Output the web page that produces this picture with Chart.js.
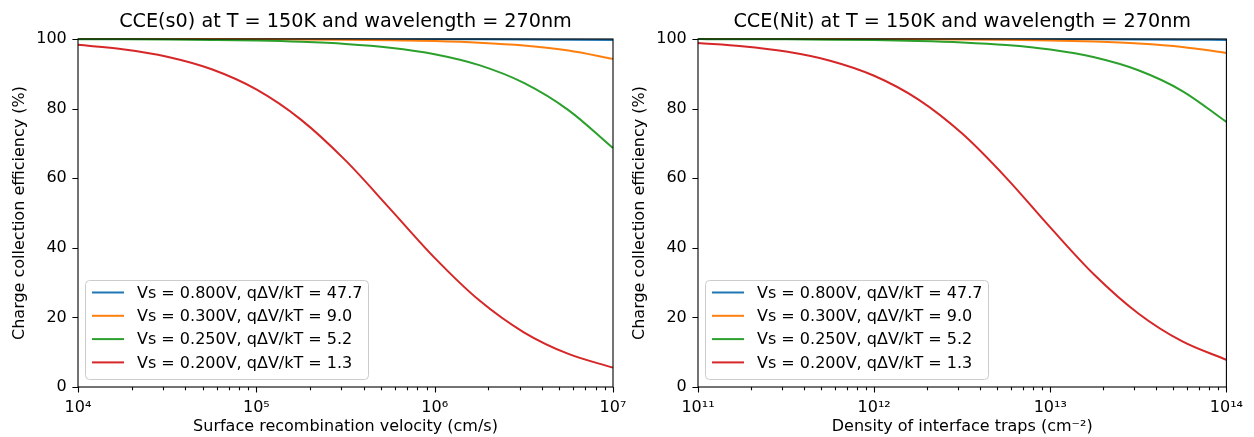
<!DOCTYPE html>
<html>
<head>
<meta charset="utf-8">
<script src="https://cdn.jsdelivr.net/npm/chart.js@4.4.1/dist/chart.umd.min.js"></script>
<style>
  html, body { margin: 0; padding: 0; background: #fff; }
  #wrap { position: relative; width: 1254px; height: 437px; overflow: hidden; }
  canvas { position: absolute; top: 0; }
</style>
</head>
<body>
<div id="wrap">
  <canvas id="c1" width="640" height="437" style="left:0px"></canvas>
  <canvas id="c2" width="634" height="437" style="left:620px"></canvas>
</div>
<script>
// ---------- DATA ----------
const seriesLabels = [
  'Vs = 0.800V, qΔV/kT = 47.7',
  'Vs = 0.300V, qΔV/kT = 9.0',
  'Vs = 0.250V, qΔV/kT = 5.2',
  'Vs = 0.200V, qΔV/kT = 1.3'
];
const seriesColors = ['#1f77b4', '#ff7f0e', '#2ca02c', '#d62728'];

// Left panel: surface recombination velocity (cm/s)
const s0Values = [1e4, 1.778e4, 3.162e4, 5.623e4, 1e5, 1.778e5, 3.162e5, 5.623e5, 1e6, 1.778e6, 3.162e6, 5.623e6, 1e7];
const s0Blue   = [100.0, 100.0, 100.0, 99.99, 99.99, 99.98, 99.97, 99.95, 99.93, 99.9, 99.85, 99.78, 99.7];
const s0Orange = [99.99, 99.99, 99.98, 99.97, 99.94, 99.89, 99.81, 99.66, 99.40, 98.93, 98.12, 96.70, 94.29];
const s0Green  = [99.95, 99.92, 99.86, 99.74, 99.55, 99.19, 98.58, 97.50, 95.63, 92.49, 87.38, 79.57, 68.65];
const s0Red    = [98.33, 97.07, 94.91, 91.30, 85.51, 76.84, 65.11, 51.20, 37.11, 24.91, 15.72, 9.50, 5.57];
const s0TickValues = [1e4, 1e5, 1e6, 1e7];
const s0TickLabels = ['10⁴', '10⁵', '10⁶', '10⁷'];

// Right panel: density of interface traps (cm^-2)
const nitValues = [1e11, 1.778e11, 3.162e11, 5.623e11, 1e12, 1.778e12, 3.162e12, 5.623e12, 1e13, 1.778e13, 3.162e13, 5.623e13, 1e14];
const nitBlue   = [100.0, 100.0, 100.0, 99.99, 99.99, 99.98, 99.97, 99.96, 99.94, 99.91, 99.86, 99.8, 99.72];
const nitOrange = [100.0, 99.99, 99.99, 99.98, 99.96, 99.93, 99.87, 99.77, 99.59, 99.26, 98.70, 97.71, 96.00];
const nitGreen  = [99.97, 99.94, 99.90, 99.82, 99.69, 99.45, 99.02, 98.27, 96.97, 94.74, 91.01, 85.05, 76.19];
const nitRed    = [98.83, 97.94, 96.40, 93.77, 89.44, 82.65, 72.81, 60.10, 45.86, 32.26, 21.13, 13.09, 7.81];
const nitTickValues = [1e11, 1e12, 1e13, 1e14];
const nitTickLabels = ['10¹¹', '10¹²', '10¹³', '10¹⁴'];

const yTickValues = [0, 20, 40, 60, 80, 100];
const yTitle = 'Charge collection efficiency (%)';

// ---------- RENDER ----------
const FONT = "'DejaVu Sans', 'Liberation Sans', sans-serif";
Chart.defaults.font.family = FONT;
Chart.defaults.color = '#000';

const decor = {
  id: 'decor',
  afterDatasetsDraw(chart, args, opts) {
    const ctx = chart.ctx, a = chart.chartArea;
    const xs = chart.scales.x, ys = chart.scales.y;
    ctx.save();
    ctx.strokeStyle = '#000';
    ctx.lineWidth = 1.1;
    // frame (all four spines)
    ctx.strokeRect(a.left, a.top, a.right - a.left, a.bottom - a.top);
    // major x ticks
    ctx.beginPath();
    opts.xMajor.forEach(v => {
      const p = Math.round(xs.getPixelForValue(v)) + 0.5;
      ctx.moveTo(p, a.bottom); ctx.lineTo(p, a.bottom + 5.6);
    });
    // minor x ticks (2..9 within each decade)
    for (let i = 0; i < opts.xMajor.length - 1; i++) {
      for (let m = 2; m <= 9; m++) {
        const p = Math.round(xs.getPixelForValue(opts.xMajor[i] * m)) + 0.5;
        ctx.moveTo(p, a.bottom); ctx.lineTo(p, a.bottom + 3.2);
      }
    }
    // y ticks
    yTickValues.forEach(v => {
      const p = Math.round(ys.getPixelForValue(v)) + 0.5;
      ctx.moveTo(a.left, p); ctx.lineTo(a.left - 5.6, p);
    });
    ctx.stroke();

    // axes title, centered over the plot area
    ctx.fillStyle = '#000';
    ctx.font = '19.2px ' + FONT;
    ctx.textAlign = 'center';
    ctx.textBaseline = 'middle';
    ctx.fillText(opts.title, (a.left + a.right) / 2, 22);

    // legend box (lower left, inside axes)
    const bx = a.left + 7, bw = 283, bh = 99;
    const by = a.bottom - 8 - bh;
    ctx.beginPath();
    if (ctx.roundRect) ctx.roundRect(bx + 0.5, by + 0.5, bw, bh, 4); else ctx.rect(bx + 0.5, by + 0.5, bw, bh);
    ctx.fillStyle = 'rgba(255,255,255,0.8)';
    ctx.fill();
    ctx.strokeStyle = '#cccccc';
    ctx.lineWidth = 1;
    ctx.stroke();
    ctx.font = '16px ' + FONT;
    ctx.textBaseline = 'middle';
    ctx.textAlign = 'left';
    chart.data.datasets.forEach((ds, i) => {
      const cy = by + 12.5 + i * 23.3;
      ctx.beginPath();
      ctx.strokeStyle = ds.borderColor;
      ctx.lineWidth = 2;
      ctx.moveTo(bx + 7, cy); ctx.lineTo(bx + 39, cy);
      ctx.stroke();
      ctx.fillStyle = '#000';
      ctx.fillText(ds.label, bx + 52, cy + 1);
    });
    ctx.restore();
  }
};

function makeChart(id, xVals, series, xMajor, xLabels, titleText, xTitle, padRight) {
  const datasets = series.map((vals, i) => ({
    label: seriesLabels[i],
    data: xVals.map((x, j) => ({ x: x, y: vals[j] })),
    borderColor: seriesColors[i],
    backgroundColor: seriesColors[i],
    borderWidth: 2,
    pointRadius: 0,
    fill: false,
    cubicInterpolationMode: 'monotone',
    order: series.length - i,
    clip: 4
  }));
  return new Chart(document.getElementById(id), {
    type: 'line',
    data: { datasets },
    options: {
      responsive: false,
      animation: false,
      events: [],
      layout: { padding: { top: 39, left: 0, bottom: 0, right: padRight } },
      plugins: {
        legend: { display: false },
        tooltip: { enabled: false },
        title: { display: false },
        decor: { xMajor: xMajor, title: titleText }
      },
      scales: {
        x: {
          type: 'logarithmic',
          min: xMajor[0], max: xMajor[xMajor.length - 1],
          grid: { display: false, drawTicks: false },
          border: { display: false },
          afterBuildTicks: (s) => { s.ticks = xMajor.map(v => ({ value: v, major: true })); },
          ticks: {
            autoSkip: false, maxRotation: 0, padding: 11,
            font: { size: 16 }, color: '#000',
            callback: (v) => { const k = xMajor.indexOf(v); return k >= 0 ? xLabels[k] : ''; }
          },
          title: { display: true, text: xTitle, color: '#000', font: { size: 16 }, padding: { top: 0, bottom: 0.5 } },
          afterFit: (s) => { s.height = 50; }
        },
        y: {
          min: 0, max: 100,
          grid: { display: false, drawTicks: false },
          border: { display: false },
          afterBuildTicks: (s) => { s.ticks = yTickValues.map(v => ({ value: v })); },
          ticks: { padding: 11.2, font: { size: 16 }, color: '#000' },
          title: { display: true, text: yTitle, color: '#000', font: { size: 16 }, padding: { top: 10.5, bottom: 0 } },
          afterFit: (s) => { s.width = 78; }
        }
      }
    },
    plugins: [decor]
  });
}

makeChart('c1', s0Values, [s0Blue, s0Orange, s0Green, s0Red], s0TickValues, s0TickLabels,
  'CCE(s0) at T = 150K and wavelength = 270nm', 'Surface recombination velocity (cm/s)', 27);
makeChart('c2', nitValues, [nitBlue, nitOrange, nitGreen, nitRed], nitTickValues, nitTickLabels,
  'CCE(Nit) at T = 150K and wavelength = 270nm', 'Density of interface traps (cm⁻²)', 20);
</script>
</body>
</html>
